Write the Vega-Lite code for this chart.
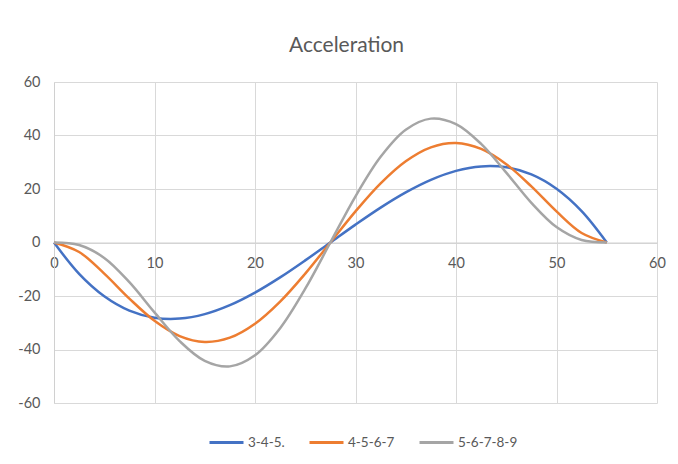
{
  "$schema": "https://vega.github.io/schema/vega-lite/v6.json",
  "width": 603,
  "height": 321,
  "autosize": {"type": "none"},
  "padding": {"left": 54, "top": 82, "right": 21, "bottom": 61},
  "background": "white",
  "title": {"text": "Acceleration", "font": "Lato", "fontSize": 21, "fontWeight": "normal", "color": "#595959", "anchor": "middle", "offset": 18, "dx": -9},
  "config": {
    "view": {"stroke": null},
    "axis": {"labelFont": "Lato", "labelFontSize": 14.5, "labelColor": "#595959", "gridColor": "#d9d9d9", "gridWidth": 1, "domainColor": "#d0d0d0", "domainWidth": 1, "ticks": false, "title": null, "labelFlush": false}
  },
  "data": {"values": [
    {"x": 0, "y": 0, "s": "3-4-5."}, {"x": 2.5, "y": -11.71, "s": "3-4-5."}, {"x": 5, "y": -20.08, "s": "3-4-5."}, {"x": 7.5, "y": -25.44, "s": "3-4-5."}, {"x": 10, "y": -28.12, "s": "3-4-5."}, {"x": 12.5, "y": -28.45, "s": "3-4-5."}, {"x": 15, "y": -26.78, "s": "3-4-5."}, {"x": 17.5, "y": -23.43, "s": "3-4-5."}, {"x": 20, "y": -18.74, "s": "3-4-5."}, {"x": 22.5, "y": -13.05, "s": "3-4-5."}, {"x": 25, "y": -6.69, "s": "3-4-5."}, {"x": 27.5, "y": 0, "s": "3-4-5."}, {"x": 30, "y": 6.69, "s": "3-4-5."}, {"x": 32.5, "y": 13.05, "s": "3-4-5."}, {"x": 35, "y": 18.74, "s": "3-4-5."}, {"x": 37.5, "y": 23.43, "s": "3-4-5."}, {"x": 40, "y": 26.78, "s": "3-4-5."}, {"x": 42.5, "y": 28.45, "s": "3-4-5."}, {"x": 45, "y": 28.12, "s": "3-4-5."}, {"x": 47.5, "y": 25.44, "s": "3-4-5."}, {"x": 50, "y": 20.08, "s": "3-4-5."}, {"x": 52.5, "y": 11.71, "s": "3-4-5."}, {"x": 55, "y": 0, "s": "3-4-5."},
    {"x": 0, "y": 0, "s": "4-5-6-7"}, {"x": 2.5, "y": -3.56, "s": "4-5-6-7"}, {"x": 5, "y": -11.62, "s": "4-5-6-7"}, {"x": 7.5, "y": -20.97, "s": "4-5-6-7"}, {"x": 10, "y": -29.28, "s": "4-5-6-7"}, {"x": 12.5, "y": -34.98, "s": "4-5-6-7"}, {"x": 15, "y": -37.18, "s": "4-5-6-7"}, {"x": 17.5, "y": -35.58, "s": "4-5-6-7"}, {"x": 20, "y": -30.36, "s": "4-5-6-7"}, {"x": 22.5, "y": -22.09, "s": "4-5-6-7"}, {"x": 25, "y": -11.62, "s": "4-5-6-7"}, {"x": 27.5, "y": 0, "s": "4-5-6-7"}, {"x": 30, "y": 11.62, "s": "4-5-6-7"}, {"x": 32.5, "y": 22.09, "s": "4-5-6-7"}, {"x": 35, "y": 30.36, "s": "4-5-6-7"}, {"x": 37.5, "y": 35.58, "s": "4-5-6-7"}, {"x": 40, "y": 37.18, "s": "4-5-6-7"}, {"x": 42.5, "y": 34.98, "s": "4-5-6-7"}, {"x": 45, "y": 29.28, "s": "4-5-6-7"}, {"x": 47.5, "y": 20.97, "s": "4-5-6-7"}, {"x": 50, "y": 11.62, "s": "4-5-6-7"}, {"x": 52.5, "y": 3.56, "s": "4-5-6-7"}, {"x": 55, "y": 0, "s": "4-5-6-7"},
    {"x": 0, "y": 0, "s": "5-6-7-8-9"}, {"x": 2.5, "y": -0.93, "s": "5-6-7-8-9"}, {"x": 5, "y": -5.76, "s": "5-6-7-8-9"}, {"x": 7.5, "y": -14.82, "s": "5-6-7-8-9"}, {"x": 10, "y": -26.13, "s": "5-6-7-8-9"}, {"x": 12.5, "y": -36.85, "s": "5-6-7-8-9"}, {"x": 15, "y": -44.25, "s": "5-6-7-8-9"}, {"x": 17.5, "y": -46.31, "s": "5-6-7-8-9"}, {"x": 20, "y": -42.16, "s": "5-6-7-8-9"}, {"x": 22.5, "y": -32.04, "s": "5-6-7-8-9"}, {"x": 25, "y": -17.28, "s": "5-6-7-8-9"}, {"x": 27.5, "y": 0, "s": "5-6-7-8-9"}, {"x": 30, "y": 17.28, "s": "5-6-7-8-9"}, {"x": 32.5, "y": 32.04, "s": "5-6-7-8-9"}, {"x": 35, "y": 42.16, "s": "5-6-7-8-9"}, {"x": 37.5, "y": 46.31, "s": "5-6-7-8-9"}, {"x": 40, "y": 44.25, "s": "5-6-7-8-9"}, {"x": 42.5, "y": 36.85, "s": "5-6-7-8-9"}, {"x": 45, "y": 26.13, "s": "5-6-7-8-9"}, {"x": 47.5, "y": 14.82, "s": "5-6-7-8-9"}, {"x": 50, "y": 5.76, "s": "5-6-7-8-9"}, {"x": 52.5, "y": 0.93, "s": "5-6-7-8-9"}, {"x": 55, "y": 0, "s": "5-6-7-8-9"}
  ]},
  "mark": {"type": "line", "interpolate": "catmull-rom", "strokeWidth": 2.5},
  "encoding": {
    "x": {"field": "x", "type": "quantitative", "scale": {"domain": [0, 60], "nice": false},
      "axis": {"values": [0, 10, 20, 30, 40, 50, 60], "offset": -160.5, "labelPadding": 14, "grid": true}},
    "y": {"field": "y", "type": "quantitative", "scale": {"domain": [-60, 60], "nice": false},
      "axis": {"values": [-60, -40, -20, 0, 20, 40, 60], "labelPadding": 14, "grid": true, "labelExpr": "'' + datum.value"}},
    "color": {"field": "s", "type": "nominal",
      "scale": {"domain": ["3-4-5.", "4-5-6-7", "5-6-7-8-9"], "range": ["#4472C4", "#ED7D31", "#A5A5A5"]},
      "legend": {"orient": "none", "legendX": 154, "legendY": 342, "direction": "horizontal", "title": null, "symbolType": "stroke", "symbolSize": 1156, "symbolStrokeWidth": 3, "labelFont": "Lato", "labelFontSize": 13.5, "labelColor": "#595959", "labelOffset": 3, "columnPadding": 18}
    }
  }
}
